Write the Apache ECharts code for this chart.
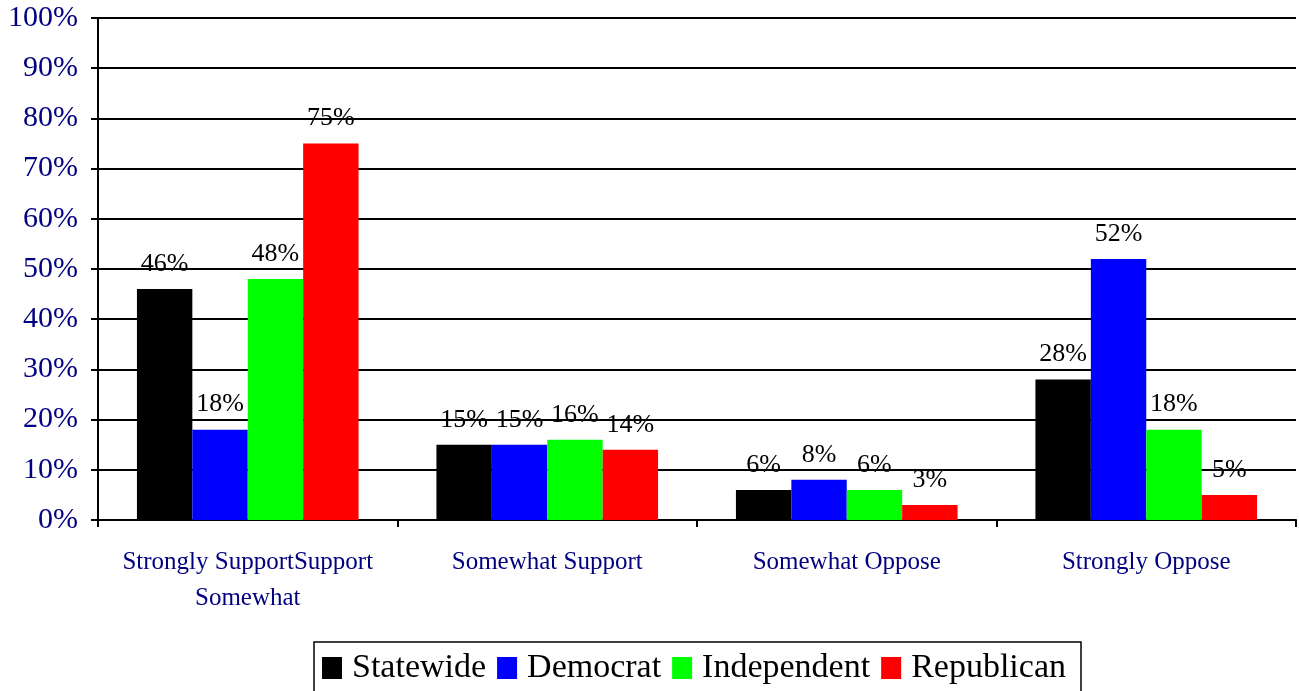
<!DOCTYPE html>
<html>
<head>
<meta charset="utf-8">
<script src="https://cdn.jsdelivr.net/npm/echarts@6/dist/echarts.min.js"></script>
<style>html,body{margin:0;padding:0;background:#fff}#c{width:1299px;height:691px}</style>
</head>
<body>
<div id="c"></div>
<script>
const categories = ["Strongly SupportSupport\nSomewhat", "Somewhat Support", "Somewhat Oppose", "Strongly Oppose"];
const seriesNames = ["Statewide", "Democrat", "Independent", "Republican"];
const statewide = [46, 15, 6, 28];
const democrat = [18, 15, 8, 52];
const independent = [48, 16, 6, 18];
const republican = [75, 14, 3, 5];
const colors = ["#000000", "#0000ff", "#00ff00", "#ff0000"];
const yTicks = [0,10,20,30,40,50,60,70,80,90,100];

const font = "'Liberation Serif', 'Times New Roman', serif";
const values = [statewide, democrat, independent, republican];
const chart = echarts.init(document.getElementById('c'));
chart.setOption({
  animation: false,
  grid: {left: 98, right: 3, top: 18, bottom: 171},
  legend: {
    data: seriesNames,
    left: 314, top: 642,
    itemWidth: 20, itemHeight: 22, itemGap: 11,
    padding: [9, 15, 9, 8],
    borderColor: '#000', borderWidth: 1.5,
    icon: 'rect',
    textStyle: {fontFamily: font, fontSize: 34, color: '#000', padding: [0, 0, 0, 5]}
  },
  xAxis: {
    type: 'category', data: categories,
    axisLine: {lineStyle: {color: '#000', width: 2}},
    axisTick: {show: true, length: 7, lineStyle: {color: '#000', width: 2}},
    axisLabel: {fontFamily: font, fontSize: 25, color: '#000080', margin: 24, lineHeight: 36, interval: 0}
  },
  yAxis: {
    type: 'value', min: 0, max: 100, interval: 10,
    axisLine: {show: true, lineStyle: {color: '#000', width: 2}},
    axisTick: {show: true, length: 7, lineStyle: {color: '#000', width: 2}},
    splitLine: {lineStyle: {color: '#000', width: 2}},
    axisLabel: {fontFamily: font, fontSize: 30, color: '#000080', margin: 20,
      formatter: v => yTicks.includes(v) ? v + '%' : ''}
  },
  series: seriesNames.map((n, i) => ({
    name: n, type: 'bar', data: values[i],
    barGap: '0%', barCategoryGap: '26%',
    itemStyle: {color: colors[i]},
    label: {show: true, position: 'top', distance: 12, formatter: '{c}%',
      fontFamily: font, fontSize: 26, color: '#000'}
  }))
});
</script>
</body>
</html>
